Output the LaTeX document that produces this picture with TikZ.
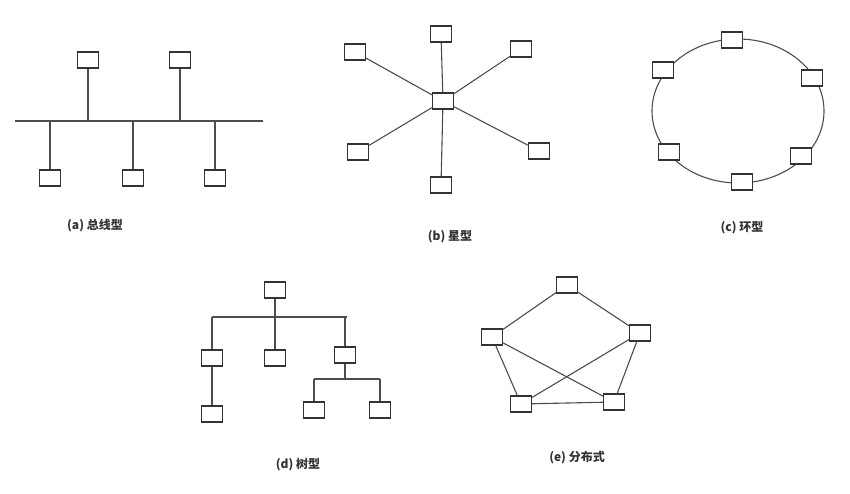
\documentclass[tikz,border=0pt]{standalone}
\usepackage{fontspec}
\newfontfamily\cjk{Noto Sans CJK SC}
\begin{document}
\begin{tikzpicture}[x=1pt,y=-1pt,
  bx/.style={draw=black!80,fill=white,minimum width=21pt,minimum height=16pt,inner sep=0pt,line width=1.1pt},
  ln/.style={draw=black!70,line width=1.1pt},
  lab/.style={font=\cjk\bfseries\fontsize{12}{14}\selectfont,text=black!80}]
\useasboundingbox (0,0) rectangle (850,494);
% (a) bus
\coordinate (b1) at (15,121); \coordinate (b2) at (263,121);
\draw[ln] (b1)--(b2);
\node[bx] (a1) at (88,60) {}; \node[bx] (a2) at (180,60) {};
\node[bx] (a3) at (50,178) {}; \node[bx] (a4) at (133,178) {}; \node[bx] (a5) at (215,178) {};
\foreach \n in {a1,a2,a3,a4,a5}{\draw[ln] (\n) -- (\n |- b1);}
\foreach \n in {a1,a2,a3,a4,a5}{\node[bx] at (\n) {};}
\node[lab] (la) at (95,226) {(a) 总线型};
% (b) star
\node[bx] (s0) at (443,101) {};
\node[bx] (s1) at (441,34) {}; \node[bx] (s2) at (355,52) {}; \node[bx] (s3) at (521,49) {};
\node[bx] (s4) at (358,152) {}; \node[bx] (s5) at (539,151) {}; \node[bx] (s6) at (441,185) {};
\foreach \n in {s1,s2,s3,s4,s5,s6}{\draw[ln] (s0)--(\n);}
\node[lab] (lb) at (450,237) {(b) 星型};
% (c) ring
\coordinate (rc) at (738,111);
\draw[ln] (rc) ellipse [x radius=86, y radius=72];
\node[bx] (r1) at (732,40) {}; \node[bx] (r2) at (663,70) {}; \node[bx] (r3) at (812,78) {};
\node[bx] (r4) at (669,152) {}; \node[bx] (r5) at (801,156) {}; \node[bx] (r6) at (742,182) {};
\node[lab] (lc) at (742,228) {(c) 环型};
% (d) tree
\node[bx] (t0) at (275,290) {};
\coordinate (h1) at (212,317); \coordinate (h2) at (347,317);
\node[bx] (t1) at (212,358) {}; \node[bx] (t2) at (275,358) {}; \node[bx] (t3) at (345,355) {};
\node[bx] (t4) at (212,414) {}; \node[bx] (t5) at (314,410) {}; \node[bx] (t6) at (380,410) {};
\coordinate (g1) at (314,379); \coordinate (g2) at (380,379);
\draw[ln] (t0) -- (t0 |- h1); \draw[ln] (h1)--(h2);
\draw[ln] (h1)--(t1); \draw[ln] (t2 |- h1)--(t2); \draw[ln] (t3 |- h1)--(t3);
\draw[ln] (t1)--(t4); \draw[ln] (t3)--(t3 |- g1); \draw[ln] (g1)--(g2);
\draw[ln] (g1)--(t5); \draw[ln] (g2)--(t6);
\node[lab] (ld) at (298,465) {(d) 树型};
% (e) distributed
\node[bx] (e1) at (567,285) {}; \node[bx] (e2) at (492,337) {}; \node[bx] (e3) at (640,333) {};
\node[bx] (e4) at (521,404) {}; \node[bx] (e5) at (614,402) {};
\draw[ln] (e1)--(e2); \draw[ln] (e1)--(e3); \draw[ln] (e2)--(e4); \draw[ln] (e3)--(e5);
\draw[ln] (e4)--(e5); \draw[ln] (e2)--(e5); \draw[ln] (e3)--(e4);
\node[lab] (le) at (577,458) {(e) 分布式};
\end{tikzpicture}
\end{document}
